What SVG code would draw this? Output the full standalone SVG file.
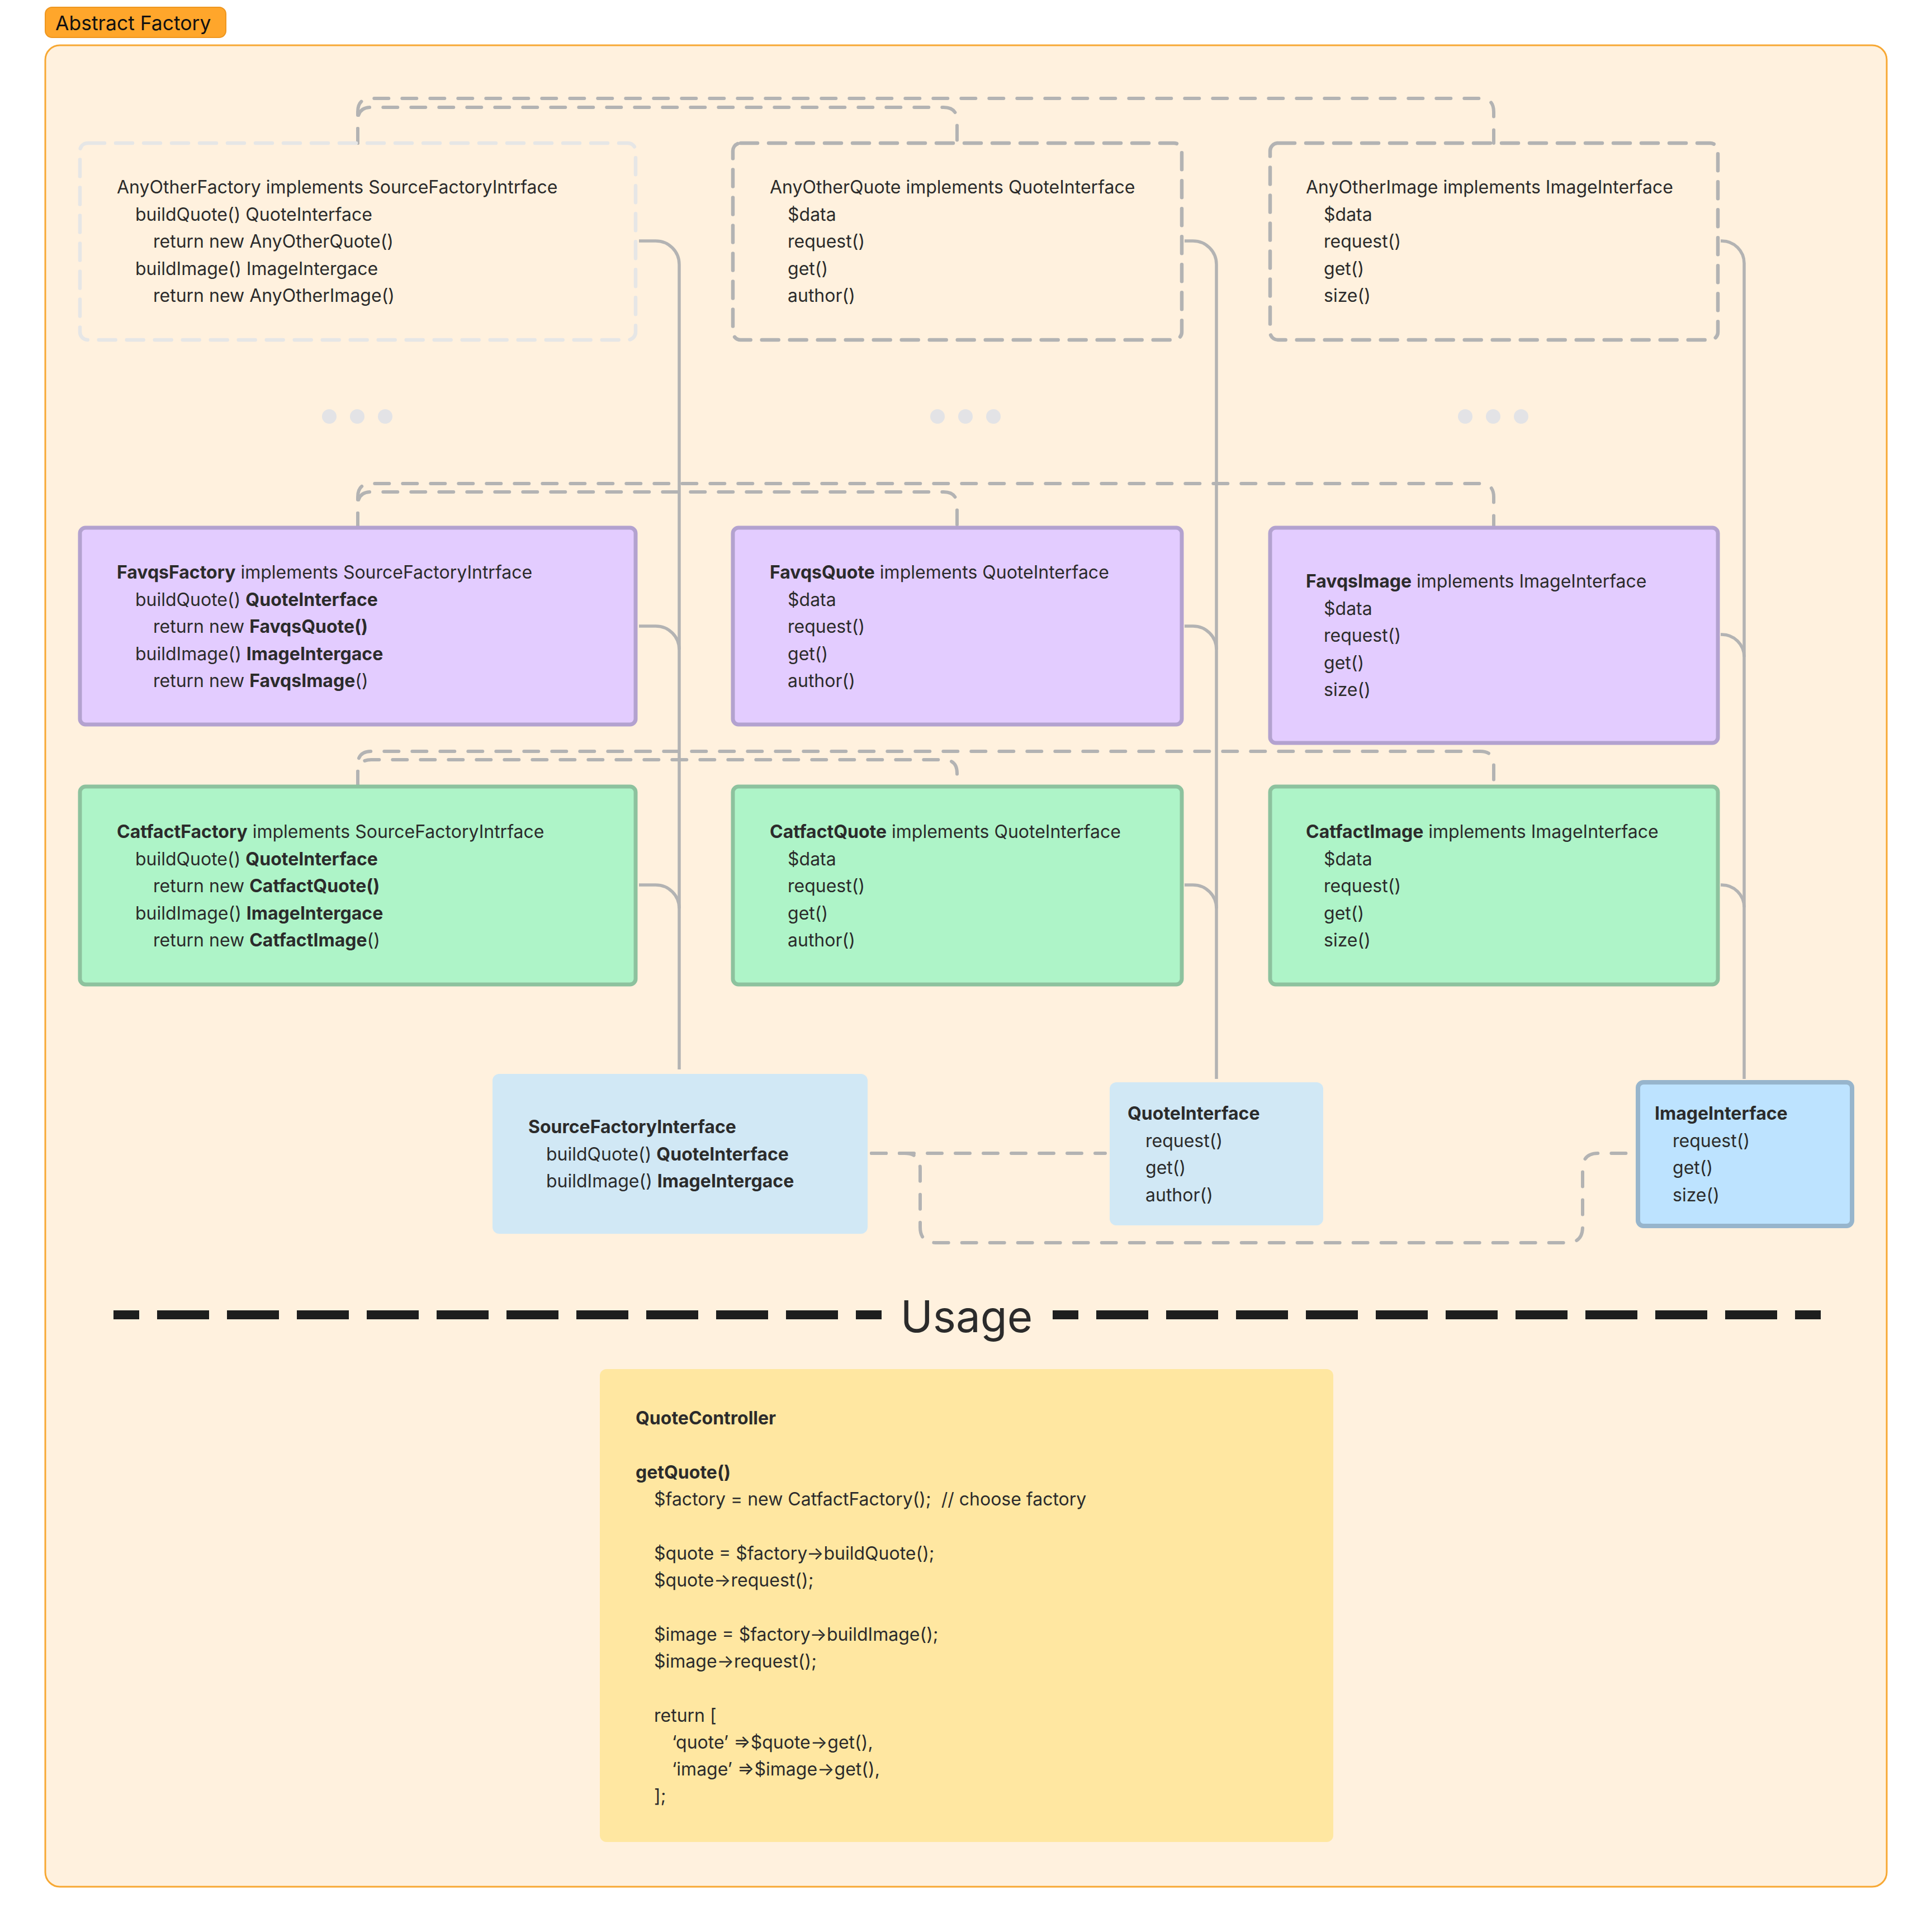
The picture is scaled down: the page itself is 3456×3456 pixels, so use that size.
<svg xmlns="http://www.w3.org/2000/svg" width="3456" height="3456" viewBox="0 0 3456 3456">
  <defs>
    <style>
      text { font-family: Inter, "Liberation Sans", "DejaVu Sans", sans-serif; font-size: 32px; fill: #2b2b2b; white-space: pre; }
      .b { font-weight: 700; }
      .dash-light { fill: none; stroke: #e6e6e6; stroke-width: 6.5; stroke-dasharray: 30 20; stroke-linecap: round; }
      .dash-dark { fill: none; stroke: #b3b3b3; stroke-width: 6.5; stroke-dasharray: 30 20; stroke-linecap: round; }
      .purple { fill: #e3ccff; stroke: #b3a2cf; stroke-width: 7; }
      .green { fill: #aef4c8; stroke: #8dc29e; stroke-width: 7; }
      .iface { fill: #d1e8f5; }
      .iface-sel { fill: #bde3ff; stroke: #97b5cc; stroke-width: 8; }
      .bus { fill: none; stroke: #b3b3b3; stroke-width: 6; stroke-dasharray: 26 24; stroke-linecap: round; }
      .wire { fill: none; stroke: #b3b3b3; stroke-width: 5.5; }
      .dot { fill: #e3e3e6; }
      .sep { fill: none; stroke: #1e1e1e; stroke-width: 16; stroke-dasharray: 93 32; stroke-dashoffset: 47; }
    </style>
  </defs>

  <!-- frame -->
  <rect x="81" y="81" width="3294" height="3294" rx="26" fill="#fff1de" stroke="#f7a833" stroke-width="3"/>
  <g id="frame-label">
    <rect x="81" y="13" width="323" height="54" rx="12" fill="#ffa62b" stroke="#ee961f" stroke-width="2"/>
    <text x="99" y="54" style="font-size:35.5px;fill:#111">Abstract Factory</text>
  </g>

  <!-- connectors -->
  <g id="connectors">
    <!-- realisation buses between sibling products -->
    <path class="bus" d="M640 256 V200 Q640 176 664 176 H2648 Q2672 176 2672 200 V256"/>
    <path class="bus" d="M640 256 V216 Q640 192 664 192 H1688 Q1712 192 1712 216 V256"/>
    <path class="bus" d="M640 944 V889 Q640 865 664 865 H2648 Q2672 865 2672 889 V944"/>
    <path class="bus" d="M640 944 V904 Q640 880 664 880 H1688 Q1712 880 1712 904 V944"/>
    <path class="bus" d="M640 1406 V1368 Q640 1344 664 1344 H2648 Q2672 1344 2672 1368 V1406"/>
    <path class="bus" d="M640 1406 V1383 Q640 1359 664 1359 H1688 Q1712 1359 1712 1383 V1406"/>

    <!-- factory column to SourceFactoryInterface -->
    <path class="wire" d="M1143 431 H1173 A42 42 0 0 1 1215 473 V1913"/>
    <path class="wire" d="M1143 1120 H1173 A42 42 0 0 1 1215 1162"/>
    <path class="wire" d="M1143 1583 H1173 A42 42 0 0 1 1215 1625"/>

    <!-- quote column to QuoteInterface -->
    <path class="wire" d="M2119 431 H2134 A42 42 0 0 1 2176 473 V1930"/>
    <path class="wire" d="M2119 1120 H2134 A42 42 0 0 1 2176 1162"/>
    <path class="wire" d="M2119 1583 H2134 A42 42 0 0 1 2176 1625"/>

    <!-- image column to ImageInterface -->
    <path class="wire" d="M3078 431 H3080 A40 40 0 0 1 3120 471 V1930"/>
    <path class="wire" d="M3078 1135 H3080 A40 40 0 0 1 3120 1175"/>
    <path class="wire" d="M3078 1583 H3080 A40 40 0 0 1 3120 1623"/>

    <!-- interface dependencies -->
    <path class="bus" d="M1559 2063 H1977"/>
    <path class="bus" d="M1559 2063 H1618 Q1646 2063 1646 2091 V2195 Q1646 2223 1674 2223 H2803 Q2831 2223 2831 2195 V2091 Q2831 2063 2859 2063 H2919"/>
  </g>

  <!-- placeholder row -->
  <g id="any-other-factory">
    <rect class="dash-light" x="143" y="256" width="994" height="352" rx="14"/>
    <text x="209" y="346">AnyOtherFactory implements SourceFactoryIntrface</text>
    <text x="242" y="394.5">buildQuote() QuoteInterface</text>
    <text x="274" y="443">return new AnyOtherQuote()</text>
    <text x="242" y="491.5">buildImage() ImageIntergace</text>
    <text x="274" y="540">return new AnyOtherImage()</text>
  </g>
  <g id="any-other-quote">
    <rect class="dash-dark" x="1311" y="256" width="803" height="352" rx="14"/>
    <text x="1377" y="346">AnyOtherQuote implements QuoteInterface</text>
    <text x="1409" y="394.5">$data</text>
    <text x="1409" y="443">request()</text>
    <text x="1409" y="491.5">get()</text>
    <text x="1409" y="540">author()</text>
  </g>
  <g id="any-other-image">
    <rect class="dash-dark" x="2272" y="256" width="801" height="352" rx="14"/>
    <text x="2336" y="346">AnyOtherImage implements ImageInterface</text>
    <text x="2368" y="394.5">$data</text>
    <text x="2368" y="443">request()</text>
    <text x="2368" y="491.5">get()</text>
    <text x="2368" y="540">size()</text>
  </g>

  <g id="ellipsis">
    <circle class="dot" cx="589" cy="745" r="13"/>
    <circle class="dot" cx="639" cy="745" r="13"/>
    <circle class="dot" cx="689" cy="745" r="13"/>
    <circle class="dot" cx="1677" cy="745" r="13"/>
    <circle class="dot" cx="1727" cy="745" r="13"/>
    <circle class="dot" cx="1777" cy="745" r="13"/>
    <circle class="dot" cx="2621" cy="745" r="13"/>
    <circle class="dot" cx="2671" cy="745" r="13"/>
    <circle class="dot" cx="2721" cy="745" r="13"/>
  </g>

  <!-- Favqs family -->
  <g id="favqs-factory">
    <rect class="purple" x="143" y="944" width="994" height="352" rx="10"/>
    <text x="209" y="1035"><tspan class="b">FavqsFactory</tspan> implements SourceFactoryIntrface</text>
    <text x="242" y="1083.5">buildQuote() <tspan class="b">QuoteInterface</tspan></text>
    <text x="274" y="1132">return new <tspan class="b">FavqsQuote()</tspan></text>
    <text x="242" y="1180.5">buildImage() <tspan class="b">ImageIntergace</tspan></text>
    <text x="274" y="1229">return new <tspan class="b">FavqsImage</tspan>()</text>
  </g>
  <g id="favqs-quote">
    <rect class="purple" x="1311" y="944" width="803" height="352" rx="10"/>
    <text x="1377" y="1035"><tspan class="b">FavqsQuote</tspan> implements QuoteInterface</text>
    <text x="1409" y="1083.5">$data</text>
    <text x="1409" y="1132">request()</text>
    <text x="1409" y="1180.5">get()</text>
    <text x="1409" y="1229">author()</text>
  </g>
  <g id="favqs-image">
    <rect class="purple" x="2272" y="944" width="801" height="385" rx="10"/>
    <text x="2336" y="1051"><tspan class="b">FavqsImage</tspan> implements ImageInterface</text>
    <text x="2368" y="1099.5">$data</text>
    <text x="2368" y="1148">request()</text>
    <text x="2368" y="1196.5">get()</text>
    <text x="2368" y="1245">size()</text>
  </g>

  <!-- Catfact family -->
  <g id="catfact-factory">
    <rect class="green" x="143" y="1407" width="994" height="354" rx="10"/>
    <text x="209" y="1499"><tspan class="b">CatfactFactory</tspan> implements SourceFactoryIntrface</text>
    <text x="242" y="1547.5">buildQuote() <tspan class="b">QuoteInterface</tspan></text>
    <text x="274" y="1596">return new <tspan class="b">CatfactQuote()</tspan></text>
    <text x="242" y="1644.5">buildImage() <tspan class="b">ImageIntergace</tspan></text>
    <text x="274" y="1693">return new <tspan class="b">CatfactImage</tspan>()</text>
  </g>
  <g id="catfact-quote">
    <rect class="green" x="1311" y="1407" width="803" height="354" rx="10"/>
    <text x="1377" y="1499"><tspan class="b">CatfactQuote</tspan> implements QuoteInterface</text>
    <text x="1409" y="1547.5">$data</text>
    <text x="1409" y="1596">request()</text>
    <text x="1409" y="1644.5">get()</text>
    <text x="1409" y="1693">author()</text>
  </g>
  <g id="catfact-image">
    <rect class="green" x="2272" y="1407" width="801" height="354" rx="10"/>
    <text x="2336" y="1499"><tspan class="b">CatfactImage</tspan> implements ImageInterface</text>
    <text x="2368" y="1547.5">$data</text>
    <text x="2368" y="1596">request()</text>
    <text x="2368" y="1644.5">get()</text>
    <text x="2368" y="1693">size()</text>
  </g>

  <!-- interfaces -->
  <g id="source-factory-interface">
    <rect class="iface" x="881" y="1921" width="671" height="286" rx="12"/>
    <text x="945" y="2027" class="b">SourceFactoryInterface</text>
    <text x="977" y="2075.5">buildQuote() <tspan class="b">QuoteInterface</tspan></text>
    <text x="977" y="2124">buildImage() <tspan class="b">ImageIntergace</tspan></text>
  </g>
  <g id="quote-interface">
    <rect class="iface" x="1985" y="1936" width="382" height="256" rx="12"/>
    <text x="2017" y="2003" class="b">QuoteInterface</text>
    <text x="2049" y="2051.5">request()</text>
    <text x="2049" y="2100">get()</text>
    <text x="2049" y="2148.5">author()</text>
  </g>
  <g id="image-interface">
    <rect class="iface-sel" x="2930" y="1936" width="383" height="257" rx="10"/>
    <text x="2960" y="2003" class="b">ImageInterface</text>
    <text x="2992" y="2051.5">request()</text>
    <text x="2992" y="2100">get()</text>
    <text x="2992" y="2148.5">size()</text>
  </g>

  <!-- usage divider -->
  <g id="usage-divider">
    <path class="sep" d="M203 2352 H1577"/>
    <path class="sep" d="M1883 2352 H3257"/>
    <text x="1729" y="2383" text-anchor="middle" style="font-size:78px;fill:#2b2b2b">Usage</text>
  </g>

  <!-- usage snippet -->
  <g id="quote-controller">
    <rect x="1073" y="2449" width="1312" height="846" rx="12" fill="#ffe7a1"/>
    <text x="1137" y="2548" class="b">QuoteController</text>
    <text x="1137" y="2645" class="b">getQuote()</text>
    <text x="1170" y="2693">$factory = new CatfactFactory();&#160; // choose factory</text>
    <text x="1170" y="2790">$quote = $factory→buildQuote();</text>
    <text x="1170" y="2838">$quote→request();</text>
    <text x="1170" y="2935">$image = $factory→buildImage();</text>
    <text x="1170" y="2983">$image→request();</text>
    <text x="1170" y="3080">return [</text>
    <text x="1202" y="3128">‘quote’ ⇒$quote→get(),</text>
    <text x="1202" y="3176">‘image’ ⇒$image→get(),</text>
    <text x="1170" y="3224">];</text>
  </g>
</svg>
